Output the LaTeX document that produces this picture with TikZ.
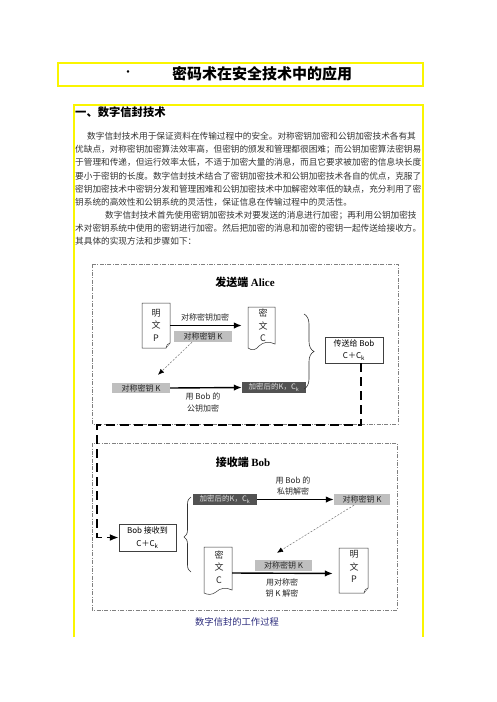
\documentclass[tikz,border=0pt]{standalone}
\usepackage{fontspec}
\setmainfont{Noto Sans CJK SC}
\newfontfamily\latinserif{Liberation Serif}
\usetikzlibrary{arrows.meta,decorations.pathreplacing,calc}
\definecolor{ylw}{RGB}{250,245,0}
\definecolor{navy}{RGB}{45,45,125}
\begin{document}
\begin{tikzpicture}[x=1pt,y=-1pt,
  bodyline/.style={anchor=west,inner sep=0pt,font=\fontsize{8.65}{10}\selectfont,text=black!80},
  lbl/.style={inner sep=0pt,align=center,font=\fontsize{8}{11.5}\selectfont,text=black!85},
  keybox/.style={fill=black!25,inner sep=0pt,minimum width=58pt,minimum height=11pt,font=\fontsize{8}{10}\selectfont,text=black!85},
  encbox/.style={fill=black!68,inner sep=0pt,minimum width=64pt,minimum height=11pt,font=\fontsize{7.5}{10}\selectfont,text=black!12},
  plainbox/.style={draw=black!75,line width=0.5pt,fill=white,inner sep=0pt,align=center,font=\fontsize{8}{12.5}\selectfont},
  docbox/.style={inner sep=0pt,minimum width=28pt,minimum height=45pt},
  doctext/.style={inner sep=0pt,align=center,font=\fontsize{9}{12.5}\selectfont,text=black!85},
  docline/.style={draw=black!80,line width=0.5pt,fill=white},
  arr/.style={line width=1.4pt,-{Latex[length=8pt,width=6.5pt]}},
  dotarr/.style={draw=black!55,line width=0.5pt,dash pattern=on 2pt off 1.5pt,-{Latex[length=6pt,width=5pt,color=black]}},
  sendpath/.style={line width=1.8pt,dash pattern=on 9pt off 5pt,-{Latex[length=9pt,width=7pt]}},
  dashframe/.style={draw=black!50,line width=0.5pt,dash pattern=on 4pt off 1.5pt on 0.8pt off 1.5pt},
  yline/.style={draw=ylw,line width=1.3pt},
  brc/.style={draw=black!80,line width=0.6pt,decorate},
  headb/.style={inner sep=0pt,font=\fontsize{11}{12}\selectfont\bfseries}
]
\useasboundingbox (0,0) rectangle (496,702);
\fill[white] (0,0) rectangle (496,702);

% title
\draw[yline] (58,63) rectangle (423,86);
\node[inner sep=0pt,font=\fontsize{12}{12}\selectfont] (dot) at (128,74) {·};
\node[inner sep=0pt,font=\fontsize{15}{15}\selectfont\bfseries] (title) at (262,74) {密码术在安全技术中的应用};

% content frame
\draw[yline] (74,637) -- (74,105) -- (423,105) -- (423,637);
\node[anchor=west,inner sep=0pt,font=\fontsize{11.3}{12}\selectfont\bfseries] (h1) at (75,112) {一、数字信封技术};

\node[bodyline] (t1) at (87,136.5) {数字信封技术用于保证资料在传输过程中的安全。对称密钥加密和公钥加密技术各有其};
\node[bodyline] (t2) at (75,149.6) {优缺点，对称密钥加密算法效率高，但密钥的颁发和管理都很困难；而公钥加密算法密钥易};
\node[bodyline] (t3) at (75,162.7) {于管理和传递，但运行效率太低，不适于加密大量的消息，而且它要求被加密的信息块长度};
\node[bodyline] (t4) at (75,175.8) {要小于密钥的长度。数字信封技术结合了密钥加密技术和公钥加密技术各自的优点，克服了};
\node[bodyline] (t5) at (75,188.9) {密钥加密技术中密钥分发和管理困难和公钥加密技术中加解密效率低的缺点，充分利用了密};
\node[bodyline] (t6) at (75,202) {钥系统的高效性和公钥系统的灵活性，保证信息在传输过程中的灵活性。};
\node[bodyline] (t7) at (105,215.1) {数字信封技术首先使用密钥加密技术对要发送的消息进行加密；再利用公钥加密技};
\node[bodyline] (t8) at (75,228.2) {术对密钥系统中使用的密钥进行加密。然后把加密的消息和加密的密钥一起传送给接收方。};
\node[bodyline] (t9) at (75,241.3) {其具体的实现方法和步骤如下：};

% frames
\draw[dashframe] (92,264) rectangle (398,424);
\draw[dashframe] (92,443) rectangle (397,610);
\node[headb] (ha) at (245,282) {发送端 {\latinserif Alice}};
\node[headb] (hb) at (243,462) {接收端 {\latinserif Bob}};

% ===== Alice =====
\node[docbox] (pa) at (156,325.5) {};
\draw[docline] (142,303) -- (170,303) -- (170,343) -- (166,348) -- (142,348) -- cycle;
\draw[docline] (170,343) .. controls (167,344) and (167,345) .. (166,348);
\node[doctext] (pat) at (156,325) {明\\文\\P};

\node[docbox,minimum width=27pt,minimum height=44pt] (ca) at (261.5,329) {};
\draw[docline] (248,307) -- (275,307) -- (275,344) .. controls (269,341) and (263,342) .. (259,346) .. controls (256,350) and (252,351) .. (248,348) -- cycle;
\node[doctext] (cat) at (263,325.5) {密\\文\\C};

\draw[arr] (pa.east) -- (pa.east -| ca.west) [shorten >=6pt];
\node[lbl] (l1) at (205,317) {对称密钥加密};
\node[keybox] (k1) at (203,336.5) {对称密钥 K};
\node[keybox,minimum height=10pt] (k2) at (141,388) {对称密钥 K};
\draw[dotarr] ([xshift=-11pt]k1.south) -- ([xshift=17pt,yshift=8pt]k2.north);
\node[encbox] (ea) at (274,387.5) {加密后的K，C\textsubscript{k}};
\draw[arr] (k2.east) -- (ea.west);
\node[lbl] (l2) at (203,402.5) {用 Bob 的\\公钥加密};

\draw[brc,decoration={brace,amplitude=10pt,aspect=0.5}] (304,314) -- (304,389);
\node[plainbox,minimum width=58pt,minimum height=26pt] (send) at (354,350) {传送给 Bob\\C＋C\textsubscript{k}};

% ===== transfer =====
\node[plainbox,minimum width=57pt,minimum height=27pt] (recv) at (147.5,537.5) {Bob 接收到\\C＋C\textsubscript{k}};
\coordinate (d0) at ([xshift=7pt]send.south);
\coordinate (d1) at (361,425);
\coordinate (d2) at (97,425);
\draw[sendpath] (d0) -- (d1) -- (d2) -- (d2 |- recv.west) -- (recv.west);

% ===== Bob =====
\node[encbox] (eb) at (225,499.5) {加密后的K，C\textsubscript{k}};
\node[keybox,minimum width=56pt] (k3) at (362,499.5) {对称密钥 K};
\draw[arr] (eb.east) -- (k3.west);
\node[lbl] (l3) at (293,486) {用 Bob 的\\私钥解密};

\draw[brc,decoration={brace,amplitude=7pt,aspect=0.467}] (191,572) -- (191,497);

\node[docbox,minimum height=46pt] (cb) at (218,570) {};
\draw[docline] (204,547) -- (232,547) -- (232,590) .. controls (226,587) and (220,588) .. (216,592) .. controls (212,595) and (208,595) .. (204,593) -- cycle;
\node[doctext] (cbt) at (219,567) {密\\文\\C};

\node[docbox,minimum width=29pt] (pb) at (353.5,570.5) {};
\draw[docline] (339,548) -- (368,548) -- (368,588) -- (364,593) -- (339,593) -- cycle;
\draw[docline] (368,588) .. controls (365,589) and (365,590) .. (364,593);
\node[doctext] (pbt) at (354,566.5) {明\\文\\P};

\node[keybox,minimum width=57pt] (k4) at (283.5,565.5) {对称密钥 K};
\draw[dotarr] ([xshift=-8pt]k3.south) -- ([xshift=-6.5pt,yshift=7pt]k4.north);
\draw[arr] ([yshift=-3pt]cb.east) -- ([yshift=-3pt]pb.west) [shorten >=6pt];
\node[lbl] (l4) at (282,588) {用对称密\\钥 K 解密};

\node[inner sep=0pt,font=\fontsize{9.3}{10}\selectfont,text=navy] (cap) at (237,622) {数字信封的工作过程};
\end{tikzpicture}
\end{document}
